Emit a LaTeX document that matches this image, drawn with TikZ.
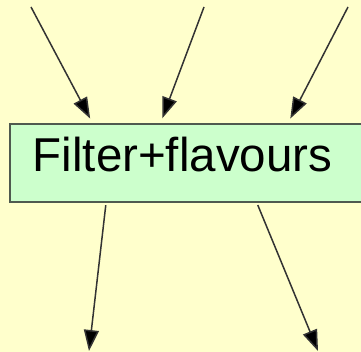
\documentclass[tikz,border=0pt]{standalone}
\usepackage{fontspec}
\setmainfont{Liberation Sans}
\usetikzlibrary{arrows.meta}
\definecolor{paper}{HTML}{FFFFCC}
\definecolor{boxfill}{HTML}{CCFFCC}
\definecolor{boxline}{HTML}{4F5A4F}
\definecolor{wire}{HTML}{333333}
\tikzset{
  stage/.style={draw=boxline, line width=2.2pt, fill=boxfill,
    anchor=north west, minimum height=78pt, minimum width=400pt,
    inner sep=0pt},
  caption/.style={anchor=base west, inner sep=0pt,
    font=\fontsize{47.5}{50}\selectfont},
  flow/.style={draw=wire, line width=1.5pt,
    -{Triangle[length=21pt,width=15pt,fill=black]}}
}
\begin{document}
\begin{tikzpicture}[x=1pt,y=-1pt]
  \useasboundingbox (0,0) rectangle (361,352);
  \clip (0,0) rectangle (361,352);
  \fill[paper] (0,0) rectangle (361,352);
  % the stage box runs on past the right edge
  \node[stage] (box) at (9,123) {};
  \node[caption] (label) at (32.5,172) {Filter+flavours};
  % inputs
  \coordinate (in1) at (31,7);
  \coordinate (in2) at (204,7);
  \coordinate (in3) at (348,7);
  \path (box.north west) ++(83.5,0) coordinate (t1);
  \path (box.north west) ++(151.5,0) coordinate (t2);
  \path (box.north west) ++(279,0) coordinate (t3);
  \draw[flow, shorten >=5pt] (in1) -- (t1);
  \draw[flow, shorten >=5pt] (in2) -- (t2);
  \draw[flow, shorten >=5pt] (in3) -- (t3);
  % outputs
  \path (box.south west) ++(97,0) coordinate (b1);
  \path (box.south west) ++(248,0) coordinate (b2);
  \coordinate (out1) at (89,351);
  \coordinate (out2) at (318,351);
  \draw[flow, shorten <=2pt] (b1) -- (out1);
  \draw[flow, shorten <=2pt] (b2) -- (out2);
\end{tikzpicture}
\end{document}
